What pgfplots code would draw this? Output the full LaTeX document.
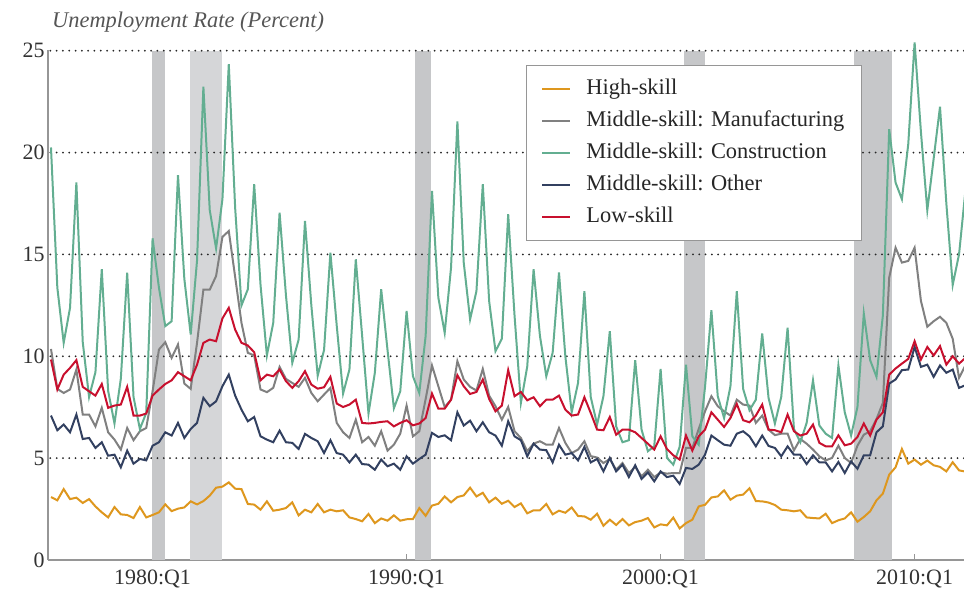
\documentclass[border=0pt]{standalone}
\usepackage{fontspec}
\setmainfont{Liberation Serif}
\usepackage{pgfplots}
\usepackage{pgfplotstable}
\pgfplotsset{compat=1.18}
\definecolor{cHigh}{RGB}{222,151,30}
\definecolor{cManu}{RGB}{128,128,128}
\definecolor{cCons}{RGB}{99,174,145}
\definecolor{cOther}{RGB}{50,64,96}
\definecolor{cLow}{RGB}{200,16,46}
\definecolor{bandDark}{RGB}{198,199,201}
\definecolor{bandLight}{RGB}{213,214,216}
\definecolor{axisgray}{RGB}{150,150,150}
\definecolor{txtgray}{RGB}{50,50,50}
\definecolor{lblgray}{RGB}{85,85,85}

\pgfplotstableread{
i high manu cons other low
0 3.09 10.36 20.25 7.09 9.84
1 2.93 8.40 13.37 6.37 8.37
2 3.48 8.20 10.66 6.65 9.10
3 2.99 8.37 12.38 6.27 9.43
4 3.06 9.35 18.53 7.14 9.81
5 2.80 7.14 10.70 5.94 8.50
6 2.99 7.14 8.00 5.99 8.28
7 2.63 6.56 9.22 5.50 8.07
8 2.34 7.47 14.27 5.78 8.64
9 2.09 6.27 8.30 5.12 7.47
10 2.60 5.91 6.70 5.17 7.58
11 2.24 5.42 8.90 4.55 7.63
12 2.21 6.48 14.10 5.37 8.50
13 2.06 5.88 8.00 4.73 7.09
14 2.60 6.32 6.43 4.96 7.09
15 2.09 6.48 7.22 4.89 7.19
16 2.21 8.28 15.79 5.61 8.07
17 2.34 10.33 13.37 5.78 8.37
18 2.73 10.69 11.48 6.27 8.64
19 2.40 9.92 11.72 6.11 8.82
20 2.52 10.58 18.89 6.73 9.22
21 2.58 8.66 13.80 5.99 9.02
22 2.88 8.40 11.07 6.43 8.82
23 2.73 10.66 14.70 6.73 9.59
24 2.89 13.27 23.23 7.96 10.66
25 3.16 13.27 17.18 7.55 10.82
26 3.55 13.94 15.30 7.79 10.74
27 3.60 15.86 17.71 8.53 11.86
28 3.81 16.15 24.34 9.10 12.38
29 3.50 13.90 17.30 8.07 11.31
30 3.48 11.64 12.50 7.38 10.66
31 2.75 10.17 13.29 6.81 10.53
32 2.72 10.04 18.45 7.02 10.20
33 2.47 8.37 13.50 6.07 8.82
34 2.88 8.24 10.04 5.91 9.10
35 2.42 8.45 11.64 5.78 9.02
36 2.47 9.48 17.05 6.35 9.35
37 2.55 8.89 13.00 5.78 8.78
38 2.83 8.69 9.68 5.75 8.45
39 2.19 8.50 10.82 5.45 8.78
40 2.47 8.94 16.64 6.19 9.27
41 2.34 8.20 12.50 5.99 8.61
42 2.75 7.79 9.05 5.83 8.41
43 2.34 8.12 10.30 5.25 8.48
44 2.47 8.45 15.09 5.88 8.99
45 2.39 6.73 11.50 5.25 7.68
46 2.44 6.27 8.17 5.17 7.51
47 2.09 5.99 9.35 4.79 7.63
48 2.01 6.89 14.76 5.17 7.87
49 1.90 5.78 11.00 4.71 6.73
50 2.26 6.04 7.19 4.68 6.70
51 1.81 5.61 9.19 4.43 6.73
52 2.04 6.32 13.29 4.93 6.78
53 1.93 5.37 10.30 4.60 6.81
54 2.19 5.66 7.45 4.73 6.56
55 1.93 6.20 8.28 4.43 6.73
56 2.00 7.58 12.22 5.09 6.86
57 2.01 6.07 9.02 4.73 6.61
58 2.55 6.32 8.20 4.96 6.70
59 2.17 7.90 11.00 5.17 6.97
60 2.67 9.55 18.12 6.24 8.17
61 2.76 8.53 12.88 6.04 7.43
62 3.12 7.51 11.15 6.12 7.43
63 2.83 7.87 14.35 5.88 7.87
64 3.09 9.76 21.53 7.25 9.07
65 3.17 8.86 14.60 6.60 8.53
66 3.55 8.50 11.81 6.84 8.15
67 3.12 8.32 13.20 6.32 8.25
68 3.30 9.38 18.45 6.76 8.86
69 2.83 8.07 12.71 6.27 7.91
70 3.06 7.55 10.25 6.11 7.30
71 2.76 6.89 10.86 5.61 7.58
72 2.91 7.51 16.97 6.81 9.32
73 2.60 6.32 12.00 6.07 8.04
74 2.78 5.99 7.71 5.88 8.25
75 2.29 5.34 9.50 5.09 7.84
76 2.44 5.71 14.27 5.71 7.99
77 2.44 5.83 11.00 5.42 7.55
78 2.75 5.66 9.02 5.39 7.87
79 2.24 5.66 10.17 4.79 7.87
80 2.42 6.48 14.11 5.66 8.07
81 2.32 5.75 10.00 5.17 7.38
82 2.58 5.25 7.25 5.25 7.09
83 2.16 5.42 8.69 4.89 7.14
84 2.14 5.83 13.20 5.55 7.99
85 1.98 5.10 8.00 4.79 7.22
86 2.27 5.03 6.65 4.96 6.40
87 1.68 4.76 8.04 4.35 6.37
88 1.98 4.96 11.23 5.01 7.02
89 1.72 4.43 6.56 4.35 6.15
90 2.01 4.76 5.78 4.68 6.40
91 1.70 4.27 5.88 4.07 6.40
92 1.86 4.57 9.81 4.65 6.27
93 1.93 4.11 6.40 3.98 5.99
94 2.06 4.43 5.34 4.30 5.71
95 1.60 4.07 5.58 3.86 5.42
96 1.75 4.30 9.38 4.35 6.07
97 1.70 4.24 5.01 4.07 5.45
98 2.08 4.27 4.68 4.14 5.14
99 1.55 4.27 5.55 3.73 4.93
100 1.81 5.50 9.59 4.52 6.11
101 1.98 5.50 6.07 4.47 5.37
102 2.63 6.43 5.66 4.68 6.07
103 2.71 7.30 8.50 5.17 6.40
104 3.07 8.04 12.26 6.11 7.25
105 3.12 7.55 8.04 5.88 6.89
106 3.42 7.30 6.97 5.66 6.53
107 2.96 7.09 8.53 5.61 6.97
108 3.16 7.87 13.20 6.20 7.66
109 3.21 7.63 8.40 6.32 6.86
110 3.52 7.58 7.35 6.07 6.76
111 2.89 6.73 7.87 5.58 7.09
112 2.88 7.09 11.12 6.11 7.63
113 2.82 6.40 7.96 5.60 6.40
114 2.70 6.13 6.70 5.50 6.37
115 2.47 6.20 8.01 5.09 6.27
116 2.44 6.20 11.40 5.58 7.14
117 2.39 5.38 6.43 5.17 6.32
118 2.44 5.94 5.78 5.17 6.11
119 2.09 5.71 6.73 4.71 6.20
120 2.06 5.42 8.82 5.14 6.65
121 2.04 5.09 6.60 4.79 5.75
122 2.27 4.89 6.20 4.79 5.58
123 1.81 5.01 5.99 4.35 5.58
124 1.95 5.61 9.55 4.81 6.12
125 2.04 5.01 7.25 4.27 5.63
126 2.34 4.76 6.11 4.84 5.71
127 1.88 5.61 7.51 4.48 6.04
128 2.11 6.15 12.10 5.14 6.70
129 2.39 6.32 9.81 5.14 6.11
130 2.93 6.92 8.99 6.27 6.89
131 3.26 7.71 12.00 6.56 7.25
132 4.19 13.86 21.15 8.66 9.10
133 4.55 15.33 18.53 8.86 9.40
134 5.45 14.60 17.71 9.32 9.64
135 4.73 14.68 20.41 9.35 9.87
136 4.93 15.33 25.41 10.46 10.74
137 4.68 12.71 21.00 9.48 9.84
138 4.88 11.45 17.17 9.59 10.46
139 4.65 11.72 19.70 8.99 10.04
140 4.57 11.94 22.25 9.55 10.50
141 4.35 11.64 17.50 9.19 9.59
142 4.80 10.86 13.50 9.35 10.00
143 4.40 8.94 15.01 8.45 9.64
144 4.34 9.55 18.12 8.58 9.92
}\datatable

\begin{document}
\begin{tikzpicture}
\begin{axis}[
  scale only axis, width=916bp, height=521.5bp,
  xmin=-0.47, xmax=143.78, ymin=0, ymax=25.6,
  axis x line*=bottom, axis y line*=left,
  x axis line style={draw=axisgray, line width=1.3bp},
  y axis line style={draw=none},
  xtick={16,56,96,136},
  xticklabels={1980:Q1,1990:Q1,2000:Q1,2010:Q1},
  xtick align=inside,
  major tick length=6bp,
  xtick style={draw=axisgray, line width=1bp},
  ytick={0,5,10,15,20,25},
  ytick style={draw=none},
  tick label style={font=\fontsize{22}{26}\selectfont, text=txtgray},
  /pgf/number format/assume math mode=true,
  xticklabel style={yshift=-6bp},
  legend style={
    at={(0.5218,0.9492)}, anchor=north west,
    draw=axisgray, line width=1bp, fill=white,
    inner xsep=15bp, inner ysep=11bp,
    row sep=7bp,
    font=\fontsize{22.5}{27}\selectfont, text=black!85,
    nodes={inner sep=2bp, text height=16bp, text depth=5bp},
    /tikz/every odd column/.append style={column sep=13bp},
  },
  legend image code/.code={\draw[#1] (0bp,0bp) -- (28bp,0bp);},
  legend cell align=left,
]
\fill[bandDark] (axis cs:15.9,0) rectangle (axis cs:17.9,25);
\fill[bandLight] (axis cs:21.9,0) rectangle (axis cs:26.9,25);
\fill[bandDark] (axis cs:57.4,0) rectangle (axis cs:59.9,25);
\fill[bandDark] (axis cs:99.7,0) rectangle (axis cs:103,25);
\fill[bandDark] (axis cs:126.5,0) rectangle (axis cs:132.5,25);
\pgfplotsinvokeforeach{5,10,15,20,25}{
  \draw[black!85, line width=2bp, line cap=round, dash pattern=on 0bp off 6.3bp] (axis cs:-0.1,#1) -- (axis cs:143.78,#1);
}
\addplot[cHigh, line width=2bp, mark=none] table[x=i, y=high] {\datatable};
\addlegendentry{High-skill}
\addplot[cManu, line width=2bp, mark=none] table[x=i, y=manu] {\datatable};
\addlegendentry{Middle-skill: Manufacturing}
\addplot[cCons, line width=2bp, mark=none] table[x=i, y=cons] {\datatable};
\addlegendentry{Middle-skill: Construction}
\addplot[cOther, line width=2bp, mark=none] table[x=i, y=other] {\datatable};
\addlegendentry{Middle-skill: Other}
\addplot[cLow, line width=2bp, mark=none] table[x=i, y=low] {\datatable};
\addlegendentry{Low-skill}
\coordinate (O) at (axis cs:-0.47,0);
\coordinate (T) at (axis cs:-0.47,25.05);
\end{axis}
\draw[axisgray, line width=1.3bp] (O) -- (T);
\node[anchor=base west, font=\itshape\fontsize{22.5}{27}\selectfont, text=lblgray, inner sep=0pt] at ([xshift=4bp,yshift=532bp]O) {Unemployment Rate (Percent)};
\pgfresetboundingbox
\path[use as bounding box] ([shift={(-48bp,-30bp)}]O) rectangle ([shift={(916bp,560bp)}]O);
\end{tikzpicture}
\end{document}
